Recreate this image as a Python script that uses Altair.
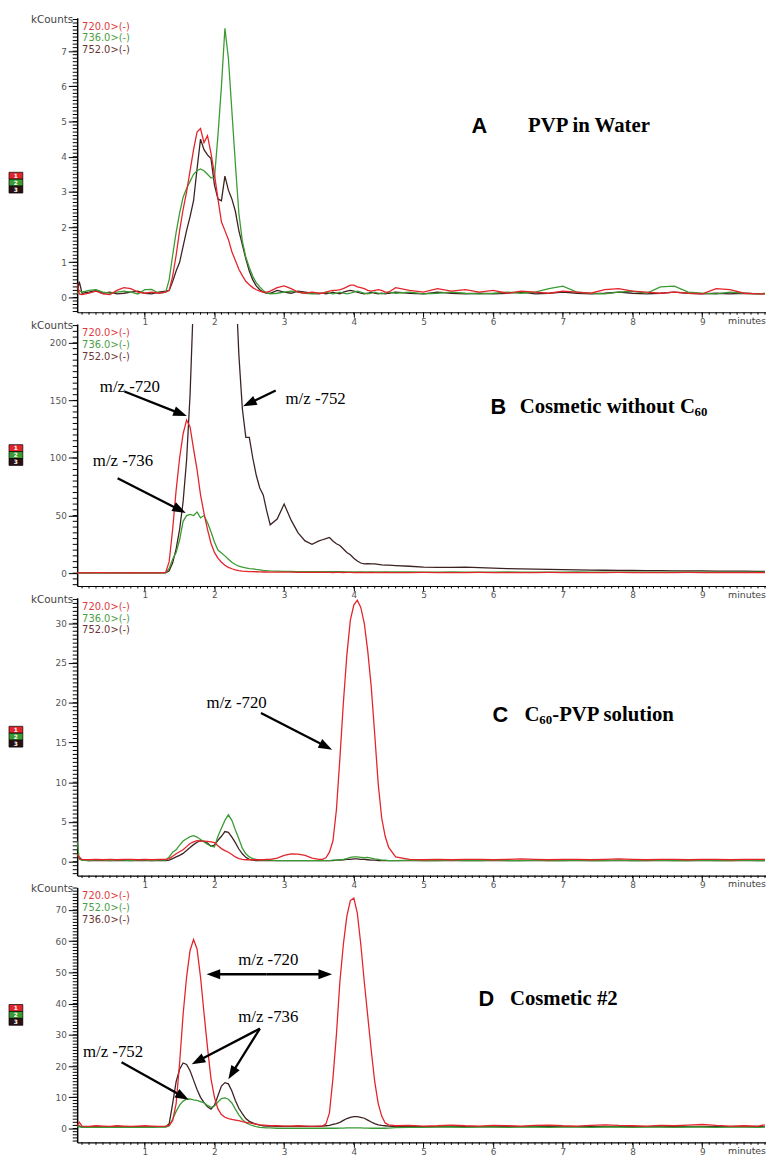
import math
import altair as alt
import pandas as pd

# ---------------- data (retention time in minutes, intensity in kCounts) ----------------
T = [0.03, 0.06, 0.1, 0.2, 0.3, 0.4, 0.5, 0.6, 0.7, 0.8, 0.9, 1.0, 1.1, 1.2, 1.3,
     1.35, 1.4, 1.45, 1.5, 1.55, 1.6, 1.65, 1.7, 1.75, 1.8, 1.85, 1.9, 1.95, 2.0, 2.05,
     2.1, 2.15, 2.2, 2.25, 2.3, 2.35, 2.4, 2.45, 2.5, 2.55, 2.6, 2.65, 2.7, 2.75, 2.8,
     2.9, 3.0, 3.1, 3.2, 3.3, 3.4, 3.5,
     3.55, 3.6, 3.65, 3.7, 3.75, 3.8, 3.85, 3.9, 3.95, 4.0, 4.05, 4.1, 4.15, 4.2, 4.25,
     4.3, 4.35, 4.4, 4.45, 4.5,
     4.6, 4.8, 5.0, 5.2, 5.4, 5.6, 5.8, 6.0, 6.2, 6.4, 6.6, 6.8, 7.0, 7.2, 7.4, 7.6,
     7.8, 8.0, 8.2, 8.4, 8.6, 8.8, 9.0, 9.2, 9.4, 9.6, 9.8, 9.9]

# Panel A: PVP in Water
A_720 = [0.4, 0.1, 0.08, 0.12, 0.18, 0.1, 0.08, 0.2, 0.28, 0.25, 0.15, 0.12, 0.15, 0.12, 0.15,
         0.2, 0.6, 1.2, 1.9, 2.5, 3.0, 3.6, 4.2, 4.7, 4.8, 4.4, 4.6, 4.1, 3.5, 2.8,
         2.15, 1.9, 1.65, 1.3, 1.05, 0.8, 0.62, 0.46, 0.36, 0.28, 0.22, 0.18, 0.15, 0.15, 0.18,
         0.28, 0.33, 0.25, 0.15, 0.12, 0.15, 0.12,
         0.12, 0.15, 0.18, 0.2, 0.2, 0.22, 0.25, 0.3, 0.35, 0.35, 0.3, 0.28, 0.25, 0.2, 0.18,
         0.2, 0.22, 0.2, 0.15, 0.15,
         0.28, 0.2, 0.15, 0.25, 0.18, 0.22, 0.15, 0.2, 0.12, 0.18, 0.15, 0.12, 0.18, 0.15, 0.12, 0.22,
         0.25, 0.18, 0.15, 0.12, 0.15, 0.12, 0.1, 0.25, 0.22, 0.12, 0.1, 0.1]
A_736 = [0.1, 0.2, 0.15, 0.2, 0.22, 0.15, 0.12, 0.15, 0.18, 0.15, 0.1, 0.22, 0.23, 0.12, 0.15,
         0.5, 1.2, 1.85, 2.4, 2.85, 3.1, 3.3, 3.5, 3.6, 3.65, 3.6, 3.5, 3.4, 3.4, 4.6,
         6.0, 7.65, 6.8, 5.3, 3.8, 2.4, 1.6, 1.15, 0.85, 0.6, 0.42, 0.3, 0.2, 0.12, 0.1,
         0.12, 0.15, 0.18, 0.15, 0.12, 0.1, 0.12,
         0.12, 0.15, 0.12, 0.1, 0.12, 0.15, 0.12, 0.1, 0.12, 0.15, 0.18, 0.15, 0.12, 0.1, 0.12,
         0.15, 0.12, 0.1, 0.12, 0.15,
         0.12, 0.15, 0.1, 0.12, 0.15, 0.12, 0.1, 0.12, 0.15, 0.12, 0.15, 0.25, 0.32, 0.15, 0.12, 0.1,
         0.15, 0.18, 0.12, 0.3, 0.32, 0.15, 0.12, 0.1, 0.15, 0.12, 0.1, 0.12]
A_752 = [0.15, 0.45, 0.12, 0.15, 0.2, 0.12, 0.15, 0.1, 0.12, 0.15, 0.18, 0.12, 0.1, 0.15, 0.18,
         0.2, 0.45, 0.75, 1.0, 1.45, 1.9, 2.3, 2.75, 3.65, 4.5, 4.2, 4.05, 3.95, 3.2, 2.8,
         2.75, 3.45, 3.05, 2.8, 2.45, 1.9, 1.5, 1.1, 0.75, 0.5, 0.33, 0.22, 0.15, 0.12, 0.12,
         0.2, 0.15, 0.12, 0.18, 0.15, 0.12, 0.1,
         0.12, 0.1, 0.12, 0.15, 0.12, 0.1, 0.15, 0.18, 0.2, 0.18, 0.15, 0.12, 0.1, 0.12, 0.15,
         0.12, 0.1, 0.12, 0.1, 0.12,
         0.15, 0.12, 0.1, 0.15, 0.12, 0.1, 0.12, 0.1, 0.12, 0.15, 0.1, 0.12, 0.15, 0.12, 0.1, 0.12,
         0.15, 0.12, 0.1, 0.12, 0.15, 0.12, 0.1, 0.12, 0.1, 0.12, 0.1, 0.1]

# Panel B: Cosmetic without C60
B_720 = [0.3, 0.4, 0.3, 0.3, 0.4, 0.4, 0.3, 0.3, 0.3, 0.4, 0.3, 0.3, 0.3, 0.3, 0.6,
         10, 38, 72, 100, 121, 133, 127, 108, 90, 68, 52, 38, 26, 18, 13,
         9.5, 6.8, 5.0, 3.8, 2.8, 2.2, 1.8, 1.6, 1.4, 1.3, 1.2, 1.1, 1.0, 1.0, 0.9,
         0.9, 0.8, 0.8, 0.7, 0.7, 0.7, 0.6,
         0.6, 0.6, 0.6, 0.5, 0.6, 0.6, 0.5, 0.6, 0.6, 0.5, 0.5, 0.6, 0.5, 0.5, 0.6,
         0.5, 0.5, 0.5, 0.6, 0.5,
         0.5, 0.5, 0.6, 0.5, 0.5, 0.5, 0.6, 0.5, 0.5, 0.5, 0.5, 0.6, 0.5, 0.5, 0.5, 0.5,
         0.6, 0.5, 0.5, 0.5, 0.5, 0.6, 0.5, 0.5, 0.5, 0.5, 0.5, 0.5]
B_736 = [0.3, 0.3, 0.3, 0.3, 0.3, 0.3, 0.3, 0.3, 0.3, 0.3, 0.3, 0.3, 0.3, 0.3, 0.5,
         4, 12, 18, 29, 45, 50, 51, 50, 53, 48, 50, 44, 36, 27, 20,
         17.5, 15, 12, 9.4, 7.5, 6.0, 5.2, 4.5, 4.0, 3.7, 3.2, 2.8, 2.4, 2.1, 1.9,
         1.7, 1.6, 1.5, 1.4, 1.4, 1.3, 1.3,
         1.3, 1.3, 1.2, 1.2, 1.2, 1.2, 1.2, 1.1, 1.1, 1.1, 1.1, 1.1, 1.0, 1.0, 1.0,
         1.0, 1.0, 1.0, 1.0, 1.0,
         1.0, 1.0, 0.9, 0.9, 1.0, 0.9, 0.9, 0.9, 1.0, 0.9, 0.9, 0.9, 0.9, 1.0, 0.9, 0.9,
         0.9, 0.9, 0.9, 0.9, 0.9, 0.9, 0.9, 0.9, 0.9, 0.9, 0.9, 0.9]
B_752 = [0.2, 0.3, 0.2, 0.2, 0.2, 0.2, 0.2, 0.2, 0.2, 0.2, 0.2, 0.2, 0.2, 0.2, 0.3,
         2, 9, 21, 38, 62, 98, 155, 240, 400, 520, 560, 580, 590, 590, 580,
         560, 520, 460, 380, 260, 190, 143, 118, 118, 100, 85, 74, 68, 54, 42,
         47, 60, 46, 35, 28, 25, 28,
         29, 30, 31, 28, 25.5, 24, 21, 18, 16, 13, 10.5, 8.8, 8.0, 8.2, 8.0,
         8.0, 7.6, 7.2, 7.0, 7.0,
         6.6, 6.0, 5.3, 5.0, 5.0, 5.2, 4.8, 4.4, 4.0, 3.8, 3.5, 3.2, 3.0, 2.8, 2.6, 2.5,
         2.4, 2.3, 2.2, 2.1, 2.0, 2.0, 1.9, 1.8, 1.8, 1.7, 1.6, 1.6]

# Panel C: C60-PVP solution
C_720 = [1.0, 0.4, 0.3, 0.25, 0.3, 0.25, 0.3, 0.25, 0.3, 0.3, 0.25, 0.3, 0.25, 0.3, 0.3,
         0.4, 0.7, 1.0, 1.25, 1.5, 1.9, 2.3, 2.5, 2.65, 2.6, 2.6, 2.55, 2.5, 2.4, 2.0,
         1.65, 1.4, 1.2, 0.9, 0.6, 0.4, 0.3, 0.25, 0.25, 0.25, 0.25, 0.25, 0.25, 0.3, 0.3,
         0.45, 0.8, 1.0, 0.95, 0.8, 0.45, 0.3,
         0.3, 0.5, 1.2, 2.6, 6.5, 13, 20, 26, 30.4, 32.3, 32.9, 32, 30, 26.5, 22,
         16, 9.8, 5.5, 3.2, 1.8,
         0.6, 0.3, 0.25, 0.3, 0.25, 0.3, 0.3, 0.25, 0.3, 0.35, 0.3, 0.25, 0.3, 0.3, 0.25, 0.3,
         0.35, 0.3, 0.25, 0.3, 0.3, 0.25, 0.3, 0.3, 0.25, 0.3, 0.3, 0.3]
C_736 = [2.6, 0.3, 0.2, 0.15, 0.2, 0.2, 0.15, 0.2, 0.2, 0.15, 0.2, 0.2, 0.15, 0.2, 0.2,
         0.6, 1.2, 1.5, 2.1, 2.6, 2.9, 3.15, 3.27, 3.1, 2.8, 2.5, 2.2, 1.95, 1.85, 3.2,
         4.2, 5.2, 5.9, 5.2, 4.0, 2.9, 1.7, 1.0, 0.6, 0.4, 0.3, 0.2, 0.2, 0.2, 0.2,
         0.15, 0.15, 0.15, 0.15, 0.15, 0.15, 0.15,
         0.15, 0.15, 0.15, 0.2, 0.2, 0.25, 0.3, 0.4, 0.55, 0.6, 0.6, 0.55, 0.5, 0.55, 0.45,
         0.35, 0.3, 0.2, 0.2, 0.15,
         0.15, 0.2, 0.15, 0.15, 0.2, 0.15, 0.15, 0.2, 0.15, 0.15, 0.2, 0.15, 0.15, 0.2, 0.15, 0.15,
         0.2, 0.15, 0.15, 0.2, 0.15, 0.15, 0.2, 0.15, 0.15, 0.2, 0.15, 0.15]
C_752 = [0.5, 0.6, 0.2, 0.15, 0.15, 0.15, 0.15, 0.15, 0.15, 0.15, 0.15, 0.15, 0.15, 0.15, 0.15,
         0.2, 0.4, 0.6, 0.8, 1.05, 1.4, 1.8, 2.15, 2.45, 2.65, 2.55, 2.35, 1.95, 2.1, 2.7,
         3.2, 3.8, 3.7, 3.1, 2.4, 1.6, 1.0, 0.55, 0.3, 0.2, 0.15, 0.15, 0.15, 0.15, 0.15,
         0.15, 0.15, 0.15, 0.15, 0.15, 0.15, 0.15,
         0.15, 0.15, 0.15, 0.15, 0.2, 0.2, 0.25, 0.3, 0.3, 0.35, 0.35, 0.3, 0.3, 0.25, 0.2,
         0.2, 0.15, 0.15, 0.15, 0.15,
         0.15, 0.15, 0.15, 0.15, 0.15, 0.15, 0.15, 0.15, 0.15, 0.15, 0.15, 0.15, 0.15, 0.15, 0.15, 0.15,
         0.15, 0.15, 0.15, 0.15, 0.15, 0.15, 0.15, 0.15, 0.15, 0.15, 0.15, 0.15]

# Panel D: Cosmetic #2 (legend order 720 / 752 / 736)
D_720 = [0.8, 2.0, 0.8, 0.7, 0.9, 0.8, 0.7, 0.9, 0.8, 0.7, 0.8, 0.9, 0.8, 0.7, 0.8,
         1.0, 2.5, 8, 21, 36.5, 48.5, 57, 60.5, 57.5, 48.5, 37, 26, 16, 10, 6.3,
         4.5, 3.6, 3.2, 2.9, 2.7, 2.5, 2.2, 2.0, 1.8, 1.6, 1.4, 1.2, 1.1, 1.0, 0.9,
         0.9, 0.8, 0.8, 0.9, 0.8, 0.7, 0.8,
         0.8, 1.5, 5, 16, 30, 47, 59, 68, 73, 73.8, 69, 59, 47, 36, 25,
         15, 8, 4, 1.8, 1.2,
         0.9, 1.0, 0.8, 0.9, 1.1, 0.9, 0.8, 1.0, 0.9, 0.8, 1.0, 1.1, 0.9, 0.8, 1.0, 1.2,
         1.0, 0.9, 0.8, 1.0, 0.9, 1.1, 1.3, 1.0, 0.8, 0.9, 0.8, 1.2]
D_752 = [0.5, 0.6, 0.4, 0.5, 0.4, 0.5, 0.4, 0.5, 0.4, 0.5, 0.4, 0.5, 0.4, 0.5, 0.5,
         0.8, 3.0, 5.5, 7.5, 8.8, 9.4, 9.5, 9.2, 9.0, 8.6, 8.2, 7.4, 6.8, 7.2, 8.5,
         9.6, 9.8, 9.4, 8.2, 6.2, 4.4, 2.9, 1.9, 1.3, 0.9, 0.6, 0.4, 0.3, 0.2, 0.2,
         0.1, 0.1, 0.1, 0.1, 0.1, 0.1, 0.1,
         0.1, 0.1, 0.1, 0.1, 0.1, 0.15, 0.15, 0.2, 0.2, 0.2, 0.2, 0.2, 0.15, 0.15, 0.1,
         0.1, 0.1, 0.1, 0.1, 0.15,
         0.3, 0.4, 0.4, 0.5, 0.5, 0.4, 0.5, 0.5, 0.4, 0.5, 0.5, 0.4, 0.5, 0.5, 0.4, 0.5,
         0.5, 0.4, 0.5, 0.5, 0.4, 0.5, 0.5, 0.4, 0.5, 0.5, 0.4, 0.5]
D_736 = [0.5, 0.8, 0.5, 0.5, 0.6, 0.5, 0.5, 0.6, 0.5, 0.5, 0.6, 0.5, 0.5, 0.6, 0.6,
         1.5, 8, 15, 19, 21, 20.5, 18.5, 15.5, 12.5, 10, 8.3, 7, 6.2, 7.5, 10.5,
         13.6, 14.7, 14.3, 12, 9, 6.5, 4.8, 3.2, 2.3, 1.8, 1.4, 1.1, 0.9, 0.8, 0.8,
         0.7, 0.7, 0.7, 0.7, 0.7, 0.7, 0.7,
         0.8, 0.9, 1.0, 1.3, 1.6, 2.0, 2.6, 3.2, 3.6, 3.8, 3.8, 3.6, 3.3, 2.7, 2.1,
         1.6, 1.2, 1.0, 0.9, 0.8,
         0.6, 0.6, 0.6, 0.6, 0.6, 0.6, 0.6, 0.6, 0.6, 0.6, 0.6, 0.6, 0.6, 0.6, 0.6, 0.6,
         0.6, 0.6, 0.6, 0.6, 0.6, 0.6, 0.6, 0.6, 0.6, 0.6, 0.6, 0.6]

LEGEND_ABC = ["720.0>(-)", "736.0>(-)", "752.0>(-)"]
LEGEND_D = ["720.0>(-)", "752.0>(-)", "736.0>(-)"]

# axis ticks
X_MAJOR = [1, 2, 3, 4, 5, 6, 7, 8, 9]
X_MINOR = [round(0.1 * k, 1) for k in range(1, 100)]
A_MAJOR = [0, 1, 2, 3, 4, 5, 6, 7]
A_MINOR = [round(0.1 * k, 1) for k in range(-4, 80)]
B_MAJOR = [0, 50, 100, 150, 200]
B_MINOR = [5 * k for k in range(-2, 44)]
C_MAJOR = [0, 5, 10, 15, 20, 25, 30]
C_MINOR = [0.5 * k for k in range(-3, 67)]
D_MAJOR = [0, 10, 20, 30, 40, 50, 60, 70]
D_MINOR = list(range(-4, 78))

# annotations in data units: (t, kCounts, text)
B_TEXTS = [(0.355, 162, "m/z -720"), (3.02, 151, "m/z -752"), (0.255, 97, "m/z -736")]
B_ARROWS = [(0.709, 157.8, 1.603, 136.4), (2.879, 158.7, 2.411, 144.9), (0.61, 82.5, 1.589, 52.3)]
C_TEXTS = [(1.887, 20.0, "m/z -720")]
C_ARROWS = [(2.667, 18.7, 3.688, 14.1)]
D_TEXTS = [(2.34, 53.8, "m/z -720"), (2.34, 35.8, "m/z -736"), (0.113, 24.4, "m/z -752")]
D_ARROWS = [(2.75, 49.4, 1.887, 49.4), (2.75, 49.4, 3.688, 49.4),
            (2.652, 32.0, 1.674, 20.6), (2.652, 32.0, 2.199, 15.8),
            (0.667, 21.2, 1.631, 9.2)]

# ---------------- style ----------------
RED, GREEN, BROWN = "#e3242b", "#3b9b33", "#3d2222"
LRED, LGREEN, LBROWN = "#e0393e", "#4a9e45", "#6a3434"
W = 697
XDOM = [0.03, 9.915]
ARROW = "M0,0 L-1,-0.36 L-1,0.36 Z"
SANS = "DejaVu Sans"
SERIF = "Liberation Serif"

XAXIS = alt.Axis(values=X_MAJOR, title=None, grid=False, domainColor="#000", domainWidth=1.2,
                 tickColor="#000", tickWidth=1, tickSize=5, labelOverlap=False, labelFlush=False,
                 labelFont=SANS, labelFontSize=9, labelColor="#555", labelPadding=0, format="d")


def yaxis(major):
    return alt.Axis(values=major, title=None, grid=False, domainColor="#000", domainWidth=1.5,
                    tickColor="#000", tickWidth=1, tickSize=9, labelOverlap=False,
                    labelFont=SANS, labelFontSize=9, labelColor="#555", labelPadding=2, format="d")


def panel(h, ydom, major, minor, series, legend, texts, arrows, titles, swatch_frac):
    xs = alt.Scale(domain=XDOM, nice=False, zero=False)
    ys = alt.Scale(domain=ydom, nice=False, zero=False)
    YAX = yaxis(major)
    kx = W / (XDOM[1] - XDOM[0])
    ky = h / (ydom[1] - ydom[0])
    one = pd.DataFrame({"a": [0]})

    def X(f):
        return alt.X(f, scale=xs, axis=XAXIS)

    def Y(f):
        return alt.Y(f, scale=ys, axis=YAX)

    layers = []
    for vals, color in series:
        df = pd.DataFrame({"t": T, "v": vals})
        layers.append(alt.Chart(df).mark_line(color=color, strokeWidth=1.3, clip=True).encode(
            x=X("t:Q"), y=Y("v:Q")))

    # minor ticks
    layers.append(alt.Chart(pd.DataFrame({"v": minor})).mark_rule(color="#000", strokeWidth=1).encode(
        y=Y("v:Q"), x=alt.value(-4.5), x2=alt.value(0)))
    layers.append(alt.Chart(pd.DataFrame({"t": X_MINOR})).mark_rule(color="#000", strokeWidth=1).encode(
        x=X("t:Q"), y=alt.value(h), y2=alt.value(h + 2.5)))

    # legend text top-left
    lcolors = [LRED, LGREEN, LBROWN]
    for i, lab in enumerate(legend):
        layers.append(alt.Chart(one).mark_text(text=lab, font=SANS, fontSize=10, color=lcolors[i],
                                               align="left", baseline="middle").encode(
            x=alt.value(5), y=alt.value(9 + 12 * i)))
    # kCounts / minutes labels
    layers.append(alt.Chart(one).mark_text(text="kCounts", font=SANS, fontSize=10.5, color="#444",
                                           align="right", baseline="middle").encode(
        x=alt.value(-4), y=alt.value(2)))
    layers.append(alt.Chart(one).mark_text(text="minutes", font=SANS, fontSize=9.5, color="#444",
                                           align="right", baseline="middle").encode(
        x=alt.value(W), y=alt.value(h + 9)))
    # trace swatches on the far left
    c = h * swatch_frac
    for i, col in enumerate([RED, GREEN, "#2a1010"]):
        layers.append(alt.Chart(one).mark_rect(color=col, stroke="#000", strokeWidth=0.7).encode(
            x=alt.value(-69), x2=alt.value(-55), y=alt.value(c - 10.5 + 7 * i),
            y2=alt.value(c - 3.5 + 7 * i)))
        layers.append(alt.Chart(one).mark_text(text=str(i + 1), font=SANS, fontSize=6,
                                               fontWeight="bold", color="white",
                                               align="center", baseline="middle").encode(
            x=alt.value(-62), y=alt.value(c - 7 + 7 * i)))

    # annotation texts
    if texts:
        tdf = pd.DataFrame(texts, columns=["t", "v", "label"])
        layers.append(alt.Chart(tdf).mark_text(font=SERIF, fontSize=17, color="#000",
                                               align="left", baseline="middle").encode(
            x=X("t:Q"), y=Y("v:Q"), text="label:N"))
    # arrows
    if arrows:
        rows = []
        for (t0, v0, t1, v1) in arrows:
            dx = (t1 - t0) * kx
            dy = -(v1 - v0) * ky
            L = math.hypot(dx, dy)
            f = max(0.0, (L - 9) / L)
            ang = math.degrees(math.atan2(dy, dx)) % 360
            rows.append({"t0": t0, "v0": v0, "t1s": t0 + (t1 - t0) * f, "v1s": v0 + (v1 - v0) * f,
                         "t1": t1, "v1": v1, "ang": ang})
        adf = pd.DataFrame(rows)
        layers.append(alt.Chart(adf).mark_rule(color="#000", strokeWidth=2.3).encode(
            x=X("t0:Q"), y=Y("v0:Q"), x2="t1s:Q", y2="v1s:Q"))
        layers.append(alt.Chart(adf).mark_point(shape=ARROW, filled=True, color="#000",
                                                opacity=1, size=760).encode(
            x=X("t1:Q"), y=Y("v1:Q"), angle=alt.Angle("ang:Q", scale=None)))
    # panel titles
    for (t, v, txt, kind, dx, dy) in titles:
        if kind == "letter":
            mk = alt.Chart(one).mark_text(text=txt, font="Liberation Sans", fontWeight="bold",
                                          fontSize=22, color="#000", align="left",
                                          baseline="middle", dx=dx, dy=dy)
        elif kind == "sub":
            mk = alt.Chart(one).mark_text(text=txt, font=SERIF, fontWeight="bold", fontSize=13,
                                          color="#000", align="left", baseline="middle",
                                          dx=dx, dy=dy)
        else:
            mk = alt.Chart(one).mark_text(text=txt, font=SERIF, fontWeight="bold", fontSize=21,
                                          color="#000", align="left", baseline="middle",
                                          dx=dx, dy=dy)
        layers.append(mk.encode(x=X("tt:Q"), y=Y("vv:Q")).transform_calculate(
            tt=str(t), vv=str(v)))
    return alt.layer(*layers).properties(width=W, height=h)


pA = panel(298, [-0.42, 7.95], A_MAJOR, A_MINOR,
           [(A_752, BROWN), (A_736, GREEN), (A_720, RED)], LEGEND_ABC, [], [],
           [(5.69, 4.87, "A", "letter", 0, 0), (6.5, 4.87, "PVP in Water", "title", 0, 0)], 0.56)
pB = panel(265, [-11.16, 216.3], B_MAJOR, B_MINOR,
           [(B_752, BROWN), (B_736, GREEN), (B_720, RED)], LEGEND_ABC, B_TEXTS, B_ARROWS,
           [(5.96, 144, "B", "letter", 0, 0), (6.38, 144, "Cosmetic without C", "title", 0, 0),
            (6.38, 144, "60", "sub", 177, 5)], 0.5)
pC = panel(281, [-1.74, 33.2], C_MAJOR, C_MINOR,
           [(C_752, BROWN), (C_736, GREEN), (C_720, RED)], LEGEND_ABC, C_TEXTS, C_ARROWS,
           [(5.99, 18.4, "C", "letter", 0, 0), (6.45, 18.4, "C", "title", 0, 0),
            (6.45, 18.4, "60", "sub", 15, 5), (6.45, 18.4, "-PVP solution", "title", 28, 0)], 0.5)
pD = panel(258, [-4.43, 77.2], D_MAJOR, D_MINOR,
           [(D_736, BROWN), (D_752, GREEN), (D_720, RED)], LEGEND_D, D_TEXTS, D_ARROWS,
           [(5.79, 41.5, "D", "letter", 0, 0), (6.24, 41.5, "Cosmetic #2", "title", 0, 0)], 0.5)

chart = alt.vconcat(pA, pB, pC, pD, spacing=12, bounds="flush").properties(
    padding=0).configure_view(stroke=None)

chart.save("out.html", embed_options={"renderer": "svg", "actions": False})
